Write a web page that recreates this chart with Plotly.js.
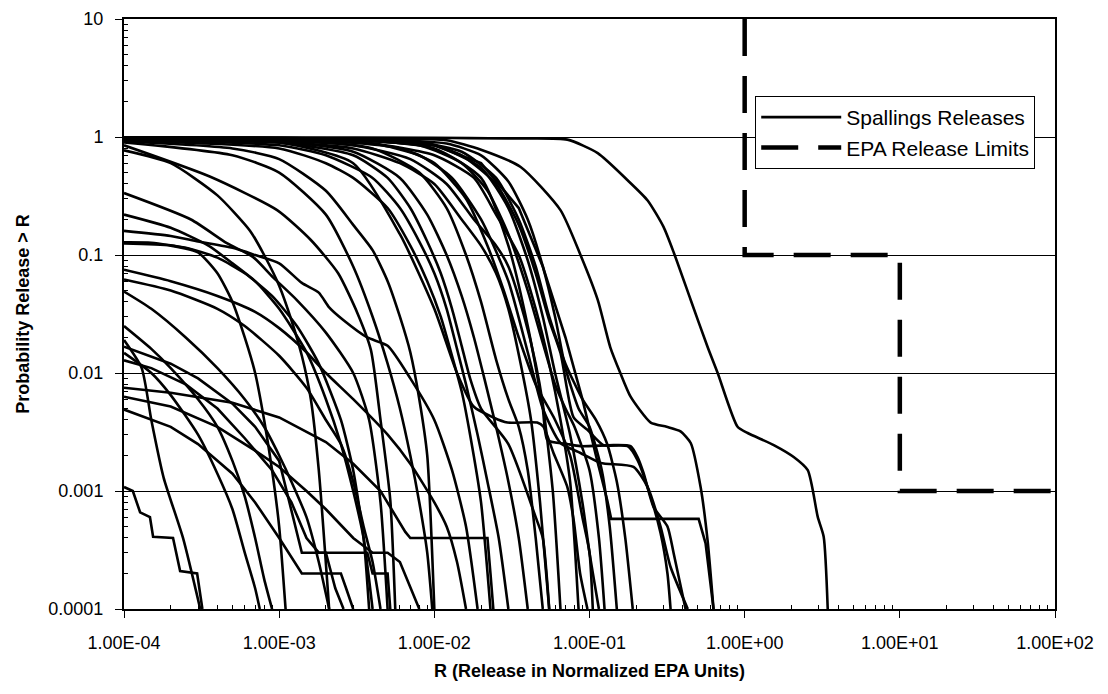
<!DOCTYPE html>
<html>
<head>
<meta charset="utf-8">
<script src="https://cdn.plot.ly/plotly-3.0.1.min.js"></script>
<style>html,body{margin:0;padding:0;background:#fff;}#chart{width:1108px;height:694px;}</style>
</head>
<body>
<div id="chart"></div>
<script>
// ---- Axis ticks ----
const xTickVals = [1e-4, 1e-3, 1e-2, 1e-1, 1, 10, 100];
const xTickText = ['1.00E-04', '1.00E-03', '1.00E-02', '1.00E-01', '1.00E+00', '1.00E+01', '1.00E+02'];
const yTickVals = [1e-4, 1e-3, 1e-2, 1e-1, 1, 10];
const yTickText = ['0.0001', '0.001', '0.01', '0.1', '1', '10'];

// ---- EPA release limits ----
const epaX = [1, 1, 10, 10, 100];
const epaP = [10, 0.1, 0.1, 0.001, 0.001];

// ---- Spallings release CCDFs (R, probability release > R) ----
const t01x = [1e-4,1e-3,1e-2,0.03,0.072,0.113,0.176,0.237,0.3,0.35,0.449,0.577,0.67,0.9,1.045,1.54,2.07,2.55,2.96,3.23,3.43];
const t01p = [0.99,0.99,0.985,0.97,0.95,0.73,0.43,0.29,0.173,0.104,0.0416,0.0166,0.01,0.0035,0.0031,0.00245,0.00194,0.0015,0.0006,0.00041,0.0001];
const t02x = [1e-4,1e-3,5e-3,0.012,0.02,0.036,0.065,0.0875,0.113,0.136,0.158,0.184,0.248,0.314,0.386,0.449,0.52,0.577,0.63];
const t02p = [0.99,0.98,0.97,0.94,0.78,0.557,0.24,0.1,0.0416,0.0166,0.01,0.0063,0.0038,0.0035,0.0032,0.00255,0.00108,0.00038,0.0001];
const t03x = [1e-4,1e-3,5e-3,1e-2,1.5e-2,2.5e-2,3.5e-2,4.5e-2,5.5e-2,6.5e-2,7.9e-2,9.7e-2,0.123,0.176,0.204,0.248,0.287,0.318,0.333];
const t03p = [0.98,0.97,0.93,0.85,0.7,0.4,0.18,0.07,0.028,0.0148,0.0042,0.0033,0.00245,0.0024,0.00183,0.00089,0.00044,0.0002,0.0001];
const t04x = [1e-4,1e-3,4e-3,8e-3,1.3e-2,2e-2,3e-2,4e-2,5e-2,6.5e-2,8.75e-2,0.118,0.192,0.237,0.287,0.333,0.43];
const t04p = [0.97,0.95,0.88,0.7,0.45,0.2,0.06,0.015,0.005,0.00255,0.0021,0.00173,0.0016,0.00108,0.0005,0.000227,0.0001];
const t05x = [1e-4,1e-3,3e-3,6e-3,1e-2,1.4e-2,1.79e-2,2.4e-2,2.96e-2,4.6e-2,5.05e-2,5.86e-2,7.2e-2,7.9e-2,8.7e-2,9.7e-2];
const t05p = [0.95,0.9,0.6,0.15,0.035,0.01,0.0052,0.0042,0.0038,0.0038,0.0035,0.0021,0.00108,0.00057,0.0002,0.0001];
const t06x = [1e-4,3e-3,1e-2,2e-2,3e-2,4e-2,5e-2,5.36e-2,7.2e-2,8.75e-2,0.143,0.184,0.204,0.223,0.259,0.318,0.348,0.416];
const t06p = [0.99,0.95,0.8,0.45,0.12,0.025,0.005,0.0027,0.0025,0.0024,0.00245,0.0024,0.00194,0.00142,0.00073,0.0005,0.0003,0.0001];
const t07x = [1e-4,3e-3,0.01,0.02,0.035,0.05,0.07,0.09,0.11,0.13,0.138,0.505,0.56,0.63];
const t07p = [0.98,0.95,0.85,0.6,0.25,0.08,0.02,0.006,0.002,0.00084,0.00058,0.00058,0.00036,0.0001];
const t09x = [1e-4,1e-3,5e-3,0.012,0.02,0.03,0.04,0.05,0.06,0.07,0.085,0.1,0.12,0.135,0.15];
const t09p = [0.99,0.98,0.95,0.88,0.7,0.42,0.2,0.08,0.03,0.011,0.005,0.0035,0.0015,0.0005,0.0001];
const t10x = [1e-4,1e-3,5e-3,0.01,0.02,0.03,0.04,0.05,0.06,0.075,0.09,0.1,0.115];
const t10p = [0.98,0.97,0.93,0.85,0.55,0.25,0.09,0.03,0.01,0.003,0.0008,0.0003,0.0001];
const t11x = [1e-4,1e-3,4e-3,0.01,0.018,0.025,0.035,0.045,0.055,0.065,0.075,0.085];
const t11p = [0.97,0.95,0.88,0.7,0.45,0.22,0.1,0.035,0.012,0.004,0.0012,0.0001];
const t12x = [1e-4,1e-3,3e-3,7e-3,0.012,0.018,0.025,0.03,0.038,0.045,0.05,0.058,0.065];
const t12p = [0.96,0.93,0.85,0.65,0.4,0.2,0.12,0.08,0.03,0.012,0.0055,0.001,0.0001];
const t13x = [1e-4,1e-3,3e-3,6e-3,0.01,0.015,0.02,0.025,0.03,0.036,0.042,0.048,0.055];
const t13p = [0.95,0.9,0.8,0.6,0.4,0.2,0.12,0.07,0.035,0.012,0.004,0.0008,0.0001];
const t14x = [1e-4,1e-3,2e-3,4e-3,6e-3,8e-3,0.01,0.012,0.014,0.016,0.019,0.022,0.026,0.03];
const t14p = [0.95,0.85,0.7,0.45,0.25,0.13,0.07,0.035,0.016,0.008,0.003,0.0012,0.0004,0.0001];
const t15x = [1e-4,1e-3,2e-3,3e-3,5e-3,7e-3,9e-3,0.011,0.013,0.015,0.017,0.02,0.023];
const t15p = [0.93,0.8,0.6,0.45,0.25,0.12,0.06,0.03,0.014,0.007,0.003,0.0008,0.0001];
const t16x = [1e-4,1e-3,3e-3,6e-3,9e-3,0.012,0.015,0.018,0.021,0.025,0.03,0.035,0.04];
const t16p = [0.97,0.92,0.75,0.45,0.22,0.1,0.045,0.02,0.009,0.0035,0.0012,0.0004,0.0001];
const t17x = [1e-4,1e-3,4e-3,8e-3,0.012,0.016,0.02,0.025,0.03,0.035,0.04,0.045,0.05];
const t17p = [0.98,0.95,0.8,0.5,0.25,0.1,0.04,0.013,0.006,0.0035,0.0015,0.0004,0.0001];
const t18x = [1e-4,1e-3,3e-3,5e-3,7e-3,9e-3,0.011,0.013,0.015,0.017,0.02,0.03,0.045,0.05,0.055];
const t18p = [0.96,0.9,0.7,0.45,0.25,0.13,0.07,0.035,0.017,0.009,0.005,0.0025,0.0006,0.0004,0.0001];
const t19x = [1e-4,2e-4,4e-4,6.5e-4,8e-4,1e-3,1.2e-3,1.4e-3,1.6e-3,1.8e-3,2.1e-3];
const t19p = [0.77,0.6,0.32,0.16,0.1,0.055,0.028,0.014,0.006,0.0015,0.0001];
const t20x = [1e-4,3.6e-4,9.7e-4,1.6e-3,2.4e-3,3.2e-3,3.9e-3,4.5e-3,5.2e-3,5.6e-3];
const t20p = [0.85,0.46,0.24,0.134,0.07,0.032,0.0157,0.004,0.00084,0.0001];
const t21x = [1e-4,5e-4,1e-3,2e-3,3e-3,4e-3,5e-3,6e-3,7e-3,8e-3,9e-3,0.0097];
const t21p = [0.9,0.7,0.5,0.22,0.08,0.03,0.012,0.005,0.002,0.0008,0.0003,0.0001];
const t22x = [1e-4,5e-4,1e-3,2e-3,3e-3,4e-3,5e-3,6e-3,7e-3,8e-3,9e-3,0.01];
const t22p = [0.92,0.8,0.65,0.35,0.18,0.11,0.06,0.03,0.015,0.006,0.002,0.0001];
const t23x = [1e-4,2e-3,8e-3,0.015,0.025,0.035,0.045,0.055,0.07,0.09,0.11,0.13,0.15,0.17,0.19];
const t23p = [0.99,0.97,0.9,0.75,0.45,0.2,0.08,0.03,0.012,0.006,0.004,0.0025,0.0012,0.0004,0.0001];
const t24x = [1e-4,2e-3,8e-3,0.015,0.022,0.03,0.04,0.05,0.06,0.07,0.08,0.1,0.115,0.125];
const t24p = [0.98,0.96,0.85,0.6,0.35,0.15,0.05,0.018,0.008,0.005,0.0035,0.0015,0.0004,0.0001];
const t25x = [1e-4,2e-3,6e-3,0.01,0.016,0.022,0.028,0.035,0.045,0.06,0.075,0.09,0.1,0.105];
const t25p = [0.97,0.93,0.8,0.6,0.3,0.12,0.05,0.02,0.008,0.004,0.002,0.0006,0.0003,0.0001];
const m01x = [1e-4,2.7e-4,4.6e-4,6.8e-4,9.1e-4,1.3e-3,2e-3,3e-3,3.8e-3,4.5e-3,5e-3];
const m01p = [0.335,0.2,0.126,0.096,0.065,0.0415,0.022,0.01,0.004,0.0008,0.0001];
const m02x = [1e-4,2e-4,3e-4,5e-4,7e-4,1e-3,1.4e-3,1.8e-3,2.1e-3,2.6e-3,3.7e-3,5e-3,7e-3,1e-2,1.3e-2,1.6e-2,1.9e-2];
const m02p = [0.16,0.145,0.13,0.115,0.1,0.085,0.058,0.048,0.036,0.028,0.02,0.017,0.009,0.004,0.0015,0.0005,0.0001];
const m03x = [1e-4,2e-4,3.5e-4,5e-4,7e-4,1e-3,1.5e-3,2e-3,2.5e-3,3e-3,3.5e-3,4e-3];
const m03p = [0.22,0.17,0.12,0.085,0.06,0.035,0.015,0.006,0.0025,0.001,0.0004,0.0001];
const m04x = [1e-4,1.5e-4,2.5e-4,4e-4,6e-4,9e-4,1.3e-3,1.8e-3,2.5e-3,3e-3,3.5e-3,3.8e-3];
const m04p = [0.128,0.127,0.115,0.095,0.07,0.045,0.025,0.012,0.004,0.0015,0.0004,0.0001];
const m05x = [1e-4,2e-4,3e-4,4e-4,5e-4,6e-4,7e-4,8e-4,9e-4,1e-3,1.1e-3];
const m05p = [0.125,0.12,0.105,0.07,0.04,0.02,0.01,0.004,0.0015,0.0005,0.0001];
const l01x = [1e-4,2e-4,4e-4,7e-4,1e-3,1.5e-3,2e-3,3e-3,5e-3,7e-3,1e-2,1.2e-2,1.4e-2,1.6e-2];
const l01p = [0.075,0.06,0.045,0.033,0.024,0.015,0.01,0.006,0.003,0.0017,0.0008,0.0005,0.00025,0.0001];
const l02x = [1e-4,2e-4,4e-4,6e-4,1e-3,1.5e-3,2e-3,2.5e-3,3e-3,3.5e-3,4e-3,4.5e-3];
const l02p = [0.062,0.05,0.035,0.025,0.014,0.0075,0.004,0.0025,0.0012,0.0005,0.00025,0.0001];
const l03x = [1e-4,1.5e-4,2.5e-4,4e-4,6e-4,8e-4,1e-3,1.2e-3,1.5e-3,1.8e-3,2.1e-3];
const l03p = [0.049,0.035,0.02,0.011,0.006,0.0035,0.002,0.0012,0.0006,0.00025,0.0001];
const l04x = [1e-4,1.5e-4,2e-4,3e-4,4e-4,5e-4,6e-4,7e-4,8e-4,9e-4];
const l04p = [0.025,0.016,0.011,0.006,0.0035,0.0018,0.0009,0.0004,0.00018,0.0001];
const l05x = [1e-4,1.3e-4,1.5e-4,1.8e-4,2.4e-4,3.1e-4];
const l05p = [0.019,0.011,0.004,0.0013,0.0004,0.0001];
const l06x = [1e-4,2e-4,3e-4,5e-4,7e-4,1e-3,1.4e-3,3.7e-3,4e-3,5e-3,5.2e-3];
const l06p = [0.0167,0.012,0.009,0.0055,0.0035,0.0018,0.0003,0.0003,0.0002,0.0002,0.0001];
const l07x = [1e-4,1.5e-4,2e-4,3e-4,4e-4,5e-4,6e-4,7e-4,7.5e-4];
const l07p = [0.0148,0.01,0.0065,0.003,0.0014,0.0007,0.0003,0.00015,0.0001];
const l08x = [1e-4,2e-4,5e-4,1e-3,2e-3,3e-3,4.5e-3,6.5e-3,7e-3,2.2e-2,2.3e-2,2.4e-2];
const l08p = [0.0075,0.0068,0.0056,0.0042,0.0026,0.0017,0.001,0.00045,0.0004,0.0004,0.0002,0.0001];
const l09x = [1e-4,2e-4,4e-4,7e-4,1e-3,1.5e-3,2e-3,3e-3,4e-3,5e-3,6e-3,7e-3,8e-3];
const l09p = [0.0063,0.0052,0.0035,0.0022,0.0016,0.001,0.0007,0.0004,0.0003,0.0003,0.00025,0.00015,0.0001];
const l10x = [1e-4,2e-4,3e-4,5e-4,7e-4,1e-3,1.4e-3,1.5e-3,2.5e-3,2.7e-3,3e-3];
const l10p = [0.0049,0.0035,0.0025,0.0014,0.0008,0.0004,0.0002,0.0002,0.0002,0.00015,0.0001];
const l11x = [1e-4,1.14e-4,1.27e-4,1.47e-4,1.54e-4,2.07e-4,2.3e-4,2.96e-4,3.2e-4];
const l11p = [1.08e-3,1e-3,6.6e-4,6e-4,4.1e-4,4e-4,2.1e-4,2e-4,1e-4];
const l12x = [1e-4,1.5e-4,2.5e-4,4e-4,6e-4,9e-4,1.2e-3,1.5e-3,1.8e-3,2e-3,2.3e-3,2.6e-3];
const l12p = [0.0128,0.011,0.008,0.005,0.0028,0.0015,0.0008,0.0004,0.0003,0.0003,0.00015,0.0001];

// [x, P, smooth?]
const spallings = [
  [t01x,t01p,1],[t02x,t02p,1],[t03x,t03p,1],[t04x,t04p,1],[t05x,t05p,1],[t06x,t06p,1],[t07x,t07p,0],
  [t09x,t09p,1],[t10x,t10p,1],[t11x,t11p,1],[t12x,t12p,1],[t13x,t13p,1],[t14x,t14p,1],[t15x,t15p,1],
  [t16x,t16p,1],[t17x,t17p,1],[t18x,t18p,1],[t19x,t19p,1],[t20x,t20p,1],[t21x,t21p,1],[t22x,t22p,1],
  [t23x,t23p,1],[t24x,t24p,1],[t25x,t25p,1],
  [m01x,m01p,1],[m02x,m02p,1],[m03x,m03p,1],[m04x,m04p,1],[m05x,m05p,1],
  [l01x,l01p,1],[l02x,l02p,1],[l03x,l03p,1],[l04x,l04p,1],[l05x,l05p,1],[l06x,l06p,0],
  [l07x,l07p,1],[l08x,l08p,0],[l09x,l09p,0],[l10x,l10p,0],[l11x,l11p,0],[l12x,l12p,0]
];

// minor tick positions (2..9 within each decade)
const minorX = [], minorY = [];
for (let e = -4; e < 2; e++) for (let d = 2; d <= 9; d++) minorX.push(d * Math.pow(10, e));
for (let e = -4; e < 1; e++) for (let d = 2; d <= 9; d++) minorY.push(d * Math.pow(10, e));

const traces = spallings.map((c, i) => ({
  type: 'scatter', mode: 'lines', x: c[0], y: c[1],
  name: 'Spallings Releases', legendgroup: 'sp', showlegend: i === 0,
  line: {color: '#000', width: 2.6, shape: c[2] ? 'spline' : 'linear', smoothing: 0.6}, hoverinfo: 'skip'
}));
traces.push({
  type: 'scatter', mode: 'lines', x: epaX, y: epaP,
  name: 'EPA Release Limits', showlegend: true,
  line: {color: '#000', width: 4.5, dash: '37px,20px'}, hoverinfo: 'skip'
});

const FONT = 'Liberation Sans, Arial, Helvetica, sans-serif';
const layout = {
  width: 1108, height: 694,
  margin: {l: 124, r: 53, t: 19, b: 85},
  paper_bgcolor: '#fff', plot_bgcolor: '#fff',
  font: {family: FONT, color: '#000', size: 18},
  showlegend: true,
  xaxis: {
    type: 'log', range: [-4, 2], tickmode: 'array', tickvals: xTickVals, ticktext: xTickText,
    ticks: 'outside', ticklen: 7, tickwidth: 1, tickcolor: '#000',
    showline: true, linecolor: '#000', linewidth: 2, mirror: true,
    showgrid: false, zeroline: false,
    minor: {tickmode: 'array', tickvals: minorX, ticks: 'inside', ticklen: 4, tickwidth: 1, tickcolor: '#000', showgrid: false},
    tickfont: {family: FONT, size: 18, color: '#000'}, ticklabelstandoff: 9,
    title: {text: 'R (Release in Normalized EPA Units)', font: {family: FONT, size: 18, weight: 'bold', color: '#000'}, standoff: 13}
  },
  yaxis: {
    type: 'log', range: [-4, 1], tickmode: 'array', tickvals: yTickVals, ticktext: yTickText,
    ticks: 'outside', ticklen: 7, tickwidth: 1, tickcolor: '#000',
    showline: true, linecolor: '#000', linewidth: 2, mirror: true,
    showgrid: true, gridcolor: '#000', gridwidth: 1, zeroline: false,
    minor: {tickmode: 'array', tickvals: minorY, ticks: 'inside', ticklen: 4, tickwidth: 1, tickcolor: '#000', showgrid: false},
    tickfont: {family: FONT, size: 18, color: '#000'}, ticklabelstandoff: 8,
    title: {text: 'Probability Release > R', font: {family: FONT, size: 18, weight: 'bold', color: '#000'}, standoff: 14}
  },
  legend: {
    x: 0.678, y: 0.8695, xanchor: 'left', yanchor: 'top',
    bgcolor: '#fff', bordercolor: '#000', borderwidth: 1,
    font: {family: FONT, size: 21, color: '#000'}, itemwidth: 80, tracegroupgap: 0
  }
};

Plotly.newPlot('chart', traces, layout, {staticPlot: true, displayModeBar: false});
</script>
</body>
</html>
